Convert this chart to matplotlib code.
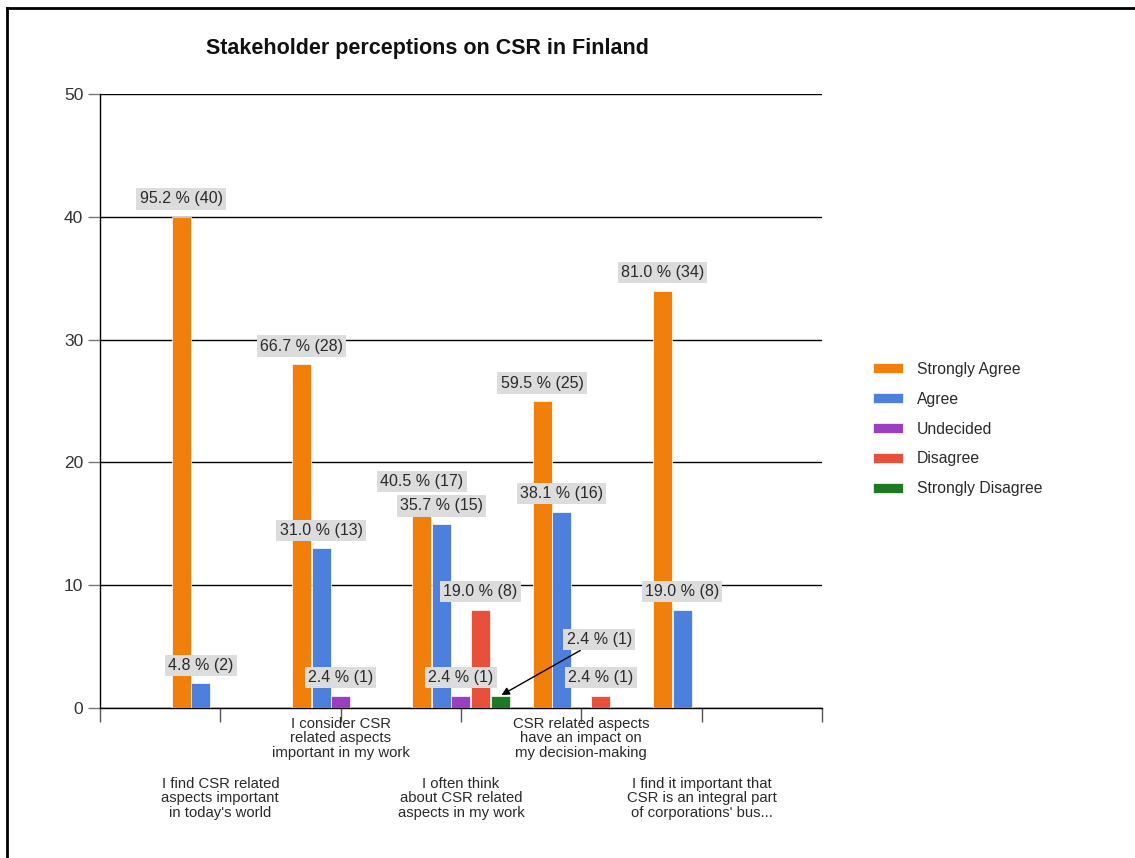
import numpy as np
import matplotlib.pyplot as plt
from matplotlib.lines import Line2D

plt.rcParams['font.family'] = ['Liberation Sans', 'DejaVu Sans']

# survey answers, 42 respondents per statement
statements = [
    "I find CSR related\naspects important\nin today's world",
    "I consider CSR\nrelated aspects\nimportant in my work",
    "I often think\nabout CSR related\naspects in my work",
    "CSR related aspects\nhave an impact on\nmy decision-making",
    "I find it important that\nCSR is an integral part\nof corporations' bus...",
]
answers = ["Strongly Agree", "Agree", "Undecided", "Disagree", "Strongly Disagree"]
strongly_agree = [40, 28, 17, 25, 34]
agree = [2, 13, 15, 16, 8]
undecided = [0, 1, 1, 0, 0]
disagree = [0, 0, 8, 1, 0]
strongly_disagree = [0, 0, 1, 0, 0]
colors = ["#f07f0c", "#4d7fdd", "#9a3fc2", "#e9503b", "#1d7a22"]

counts = np.array([strongly_agree, agree, undecided, disagree, strongly_disagree])
totals = counts.sum(axis=0)

fig = plt.figure(figsize=(11.35, 8.58), dpi=100)
ax = fig.add_axes([0.0881, 0.1748, 0.6361, 0.7156])

x = np.arange(1, len(statements) + 1)
slot = 0.163
width = 0.158

# the single "strongly disagree" label is pulled out with an arrow
callouts = {(4, 2): (99, 56)}

for j, name in enumerate(answers):
    xs = x + (j - 2) * slot
    ax.bar(xs, counts[j], width, color=colors[j], edgecolor="white",
           linewidth=0.5, label=name, zorder=3)
    for i in range(len(statements)):
        v = counts[j, i]
        if v == 0:
            continue
        txt = "{:.1f} % ({})".format(100 * v / totals[i], v)
        box = dict(boxstyle="square,pad=0.2", fc="#dcdcdc", ec="none")
        if (j, i) in callouts:
            ax.annotate(txt, xy=(xs[i], v), xytext=callouts[(j, i)],
                        textcoords="offset pixels", ha="center", va="center",
                        fontsize=11.5, color="#2a2a2a", bbox=box, zorder=5,
                        arrowprops=dict(arrowstyle="-|>", color="black", lw=1,
                                        shrinkA=0, shrinkB=1))
        else:
            ax.annotate(txt, xy=(xs[i], v), xytext=(0, 18),
                        textcoords="offset pixels", ha="center", va="center",
                        fontsize=11.5, color="#2a2a2a", bbox=box, zorder=4)

ax.set_xlim(0, 6)
ax.set_ylim(0, 50)
ax.set_yticks(range(0, 51, 10))
ax.set_xticks(range(0, 7))
ax.set_xticklabels([])
ax.yaxis.grid(True, color="black", lw=1)
ax.set_axisbelow(True)
for s in ["top", "right"]:
    ax.spines[s].set_visible(False)
ax.spines["left"].set_linewidth(1)
ax.spines["bottom"].set_linewidth(1)
ax.tick_params(axis="y", length=9, width=1, color="#777777", labelsize=12.5,
               labelcolor="#333333", pad=3)
ax.tick_params(axis="x", length=10, width=1, color="#555555")

# statements alternate between two rows under the axis
for i, s in enumerate(statements):
    dy = -9 if i % 2 == 1 else -69
    ax.annotate(s, xy=(x[i], 0), xytext=(0, dy), textcoords="offset pixels",
                ha="center", va="top", fontsize=10.7, color="#2a2a2a",
                linespacing=1.04, annotation_clip=False)

fig.text(0.377, 0.944, "Stakeholder perceptions on CSR in Finland",
         ha="center", va="center", fontsize=15.5, fontweight="bold",
         color="#111111")

fig.legend(loc="center left", bbox_to_anchor=(873 / 1135, 0.5),
           frameon=False, fontsize=11.3, handlelength=1.9, handleheight=0.65,
           labelspacing=0.95, handletextpad=0.9, borderpad=0, borderaxespad=0,
           labelcolor="#2a2a2a")

# outer frame, open on the right and bottom
fig.add_artist(Line2D([7 / 1135, 1], [1 - 8 / 858] * 2, color="black", lw=2,
                      transform=fig.transFigure))
fig.add_artist(Line2D([7 / 1135] * 2, [0, 1 - 8 / 858], color="black", lw=2,
                      transform=fig.transFigure))

fig.savefig("out.png", dpi=100)
